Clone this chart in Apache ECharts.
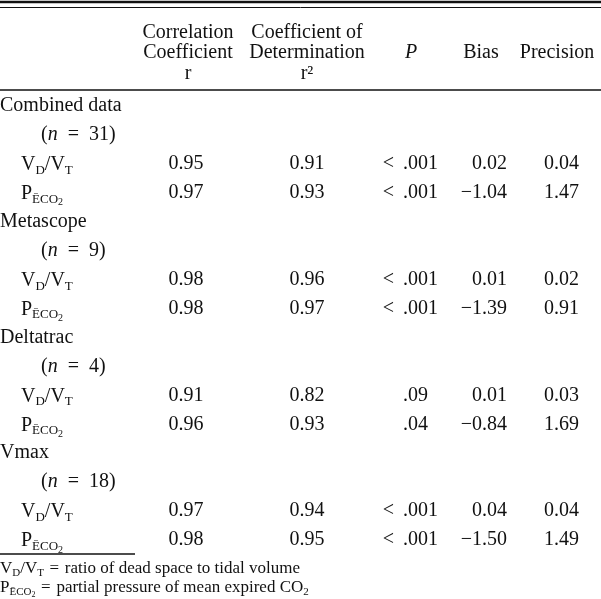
<!DOCTYPE html>
<html>
<head>
<meta charset="utf-8">
<script src="https://cdn.jsdelivr.net/npm/echarts@6/dist/echarts.min.js"></script>
<style>
  html, body { margin: 0; padding: 0; background: #fff; }
  #chart { width: 601px; height: 599px; }
</style>
</head>
<body>
<div id="chart"></div>
<script>
// table data
const groups = ["Combined data", "Metascope", "Deltatrac", "Vmax"];
const groupN = [31, 9, 4, 18];
// two measures per group: VD/VT then PECO2
const corrR = [0.95, 0.97, 0.98, 0.98, 0.91, 0.96, 0.97, 0.98];
const detR2 = [0.91, 0.93, 0.96, 0.97, 0.82, 0.93, 0.94, 0.95];
const pVals = ["< .001", "< .001", "< .001", "< .001", ".09", ".04", "< .001", "< .001"];
const bias = [0.02, -1.04, 0.01, -1.39, 0.01, -0.84, 0.04, -1.5];
const precision = [0.04, 1.47, 0.02, 0.91, 0.03, 1.69, 0.04, 1.49];
const headers = [
  "Correlation\nCoefficient\nr",
  "Coefficient of\nDetermination\nr\u00b2",
  "P",
  "Bias",
  "Precision",
];
const footnotes = [
  "{m|V}{s|D}{m|/V}{s|T}{m|\u2004=\u2004ratio of dead space to tidal volume}",
  "{m|P}{s|\u0112CO}{ss|2}{m|\u2004=\u2004partial pressure of mean expired CO}{s|2}",
];

const FONT = "'Liberation Serif', 'DejaVu Serif', serif";
const INK = "#111";

// column layout (pixels on the x value axis)
const col = { group: 0, n: 41, measure: 21, corr: 186, det: 307, pDot: 403, bias: 507, prec: 579 };

// body rows
const rows = [];
groups.forEach((g, gi) => {
  rows.push({ kind: "group", text: g });
  rows.push({ kind: "n", n: groupN[gi] });
  rows.push({ kind: "measure", m: 0, k: gi * 2 });
  rows.push({ kind: "measure", m: 1, k: gi * 2 + 1 });
});

const rich = {
  m: { fontSize: 20, lineHeight: 20, verticalAlign: "top", fontFamily: FONT, color: INK },
  it: { fontSize: 20, lineHeight: 20, verticalAlign: "top", fontFamily: FONT, color: INK, fontStyle: "italic" },
  s: { fontSize: 13, lineHeight: 13, padding: [9, 0, 0, 0], verticalAlign: "top", fontFamily: FONT, color: INK },
  ss: { fontSize: 10, lineHeight: 10, padding: [14, 0, 0, 0], verticalAlign: "top", fontFamily: FONT, color: INK },
};
const footRich = {
  m: { fontSize: 17, lineHeight: 17, verticalAlign: "top", fontFamily: FONT, color: INK },
  s: { fontSize: 11, lineHeight: 11, padding: [7, 0, 0, 0], verticalAlign: "top", fontFamily: FONT, color: INK },
  ss: { fontSize: 8, lineHeight: 8, padding: [11, 0, 0, 0], verticalAlign: "top", fontFamily: FONT, color: INK },
};
const measureLabels = ["{m|V}{s|D}{m|/V}{s|T}", "{m|P}{s|\u0112CO}{ss|2}"];

function fmt(v) {
  return (v < 0 ? "\u2212" : "") + Math.abs(v).toFixed(2);
}

function txt(x, y, text, align) {
  return {
    type: "text",
    x: x,
    y: y,
    style: { text: text, rich: rich, align: align, verticalAlign: "middle", fontSize: 20, fontFamily: FONT, fill: INK },
  };
}

function renderItem(params, api) {
  const i = params.dataIndex;
  const row = rows[i];
  const y = api.coord([0, i])[1];
  const X = (v) => api.coord([v, i])[0];
  const kids = [];
  if (row.kind === "group") {
    kids.push(txt(X(col.group), y, "{m|" + row.text + "}", "left"));
  } else if (row.kind === "n") {
    kids.push(txt(X(col.n), y, "{m|(}{it|n}{m|\u2002=\u2002" + row.n + ")}", "left"));
  } else {
    const k = row.k;
    kids.push(txt(X(col.measure), y + 1, measureLabels[row.m], "left"));
    kids.push(txt(X(col.corr), y, "{m|" + corrR[k].toFixed(2) + "}", "center"));
    kids.push(txt(X(col.det), y, "{m|" + detR2[k].toFixed(2) + "}", "center"));
    const p = pVals[k];
    const dot = p.indexOf(".");
    const pre = p.slice(0, dot).trim();
    if (pre) kids.push(txt(X(col.pDot) - 9, y, "{m|" + pre + "}", "right"));
    kids.push(txt(X(col.pDot), y, "{m|" + p.slice(dot) + "}", "left"));
    kids.push(txt(X(col.bias), y, "{m|" + fmt(bias[k]) + "}", "right"));
    kids.push(txt(X(col.prec), y, "{m|" + fmt(precision[k]) + "}", "right"));
  }
  return { type: "group", children: kids };
}

const headerX = [188, 307, 411, 481, 557];
const graphics = [
  { type: "line", shape: { x1: 0, y1: 2, x2: 601, y2: 2 }, style: { stroke: INK, lineWidth: 2.5 } },
  { type: "line", shape: { x1: 0, y1: 7.5, x2: 601, y2: 7.5 }, style: { stroke: INK, lineWidth: 1 } },
  { type: "line", shape: { x1: 0, y1: 90, x2: 601, y2: 90 }, style: { stroke: INK, lineWidth: 1.5 } },
  { type: "line", shape: { x1: 0, y1: 554, x2: 135, y2: 554 }, style: { stroke: INK, lineWidth: 1.5 } },
];
headers.forEach((h, i) => {
  graphics.push({
    type: "text",
    x: headerX[i],
    y: 53,
    style: {
      text: h,
      align: "center",
      verticalAlign: "middle",
      fontSize: 20,
      lineHeight: 20.5,
      fontFamily: FONT,
      fontStyle: h === "P" ? "italic" : "normal",
      fill: INK,
    },
  });
});
footnotes.forEach((f, i) => {
  graphics.push({
    type: "text",
    x: 0,
    y: 569 + i * 19,
    style: { text: f, rich: footRich, align: "left", verticalAlign: "middle", fontSize: 17, fontFamily: FONT, fill: INK },
  });
});

const chart = echarts.init(document.getElementById("chart"));
chart.setOption({
  animation: false,
  backgroundColor: "#fff",
  grid: { left: 0, right: 0, top: 91.5, bottom: 44.5 },
  xAxis: { type: "value", min: 0, max: 601, show: false },
  yAxis: {
    type: "category",
    inverse: true,
    data: rows.map((r, i) => String(i)),
    show: false,
  },
  graphic: graphics,
  series: [
    {
      type: "custom",
      renderItem: renderItem,
      data: rows.map((r, i) => [0, i]),
      encode: { x: 0, y: 1 },
      silent: true,
    },
  ],
});
</script>
</body>
</html>
